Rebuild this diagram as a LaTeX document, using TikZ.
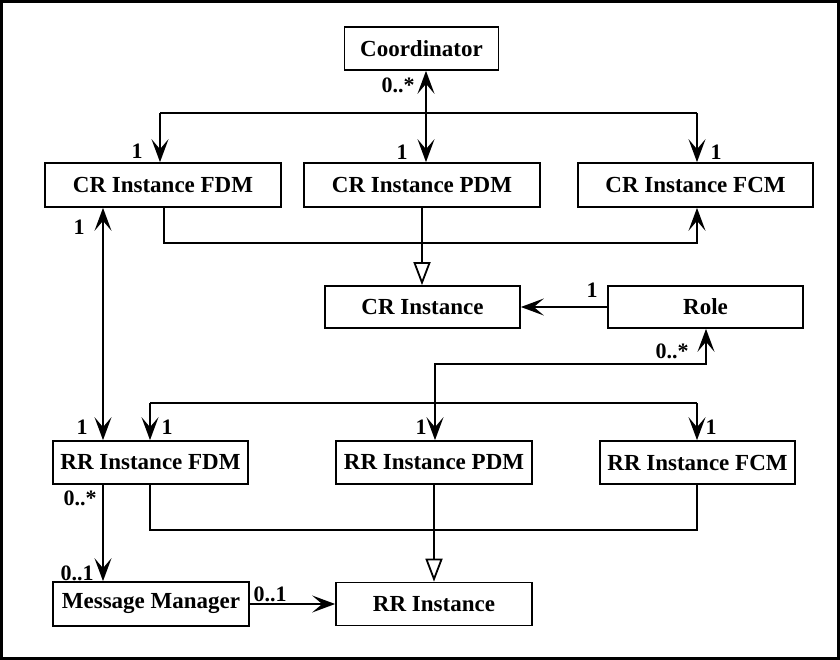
\documentclass[tikz,border=0pt]{standalone}
\usepackage{fontspec}
\setmainfont{Liberation Serif}
\usetikzlibrary{arrows.meta}
\tikzset{
  box/.style={draw, line width=1.7pt, inner sep=0pt, align=center,
    font=\bfseries\fontsize{23}{23}\selectfont},
  lbl/.style={inner sep=0pt, font=\bfseries\fontsize{22}{22}\selectfont},
  conn/.style={line width=1.8pt},
  arr/.style={conn, -{Stealth[length=23pt,width=17pt,inset=10pt]}},
  dbl/.style={conn, {Stealth[length=23pt,width=17pt,inset=10pt]}-{Stealth[length=23pt,width=17pt,inset=10pt]}},
  gen/.style={conn, -{Triangle[open,length=23pt,width=17pt,fill=white]}},
}
\begin{document}
\begin{tikzpicture}[x=1pt,y=-1pt]
\useasboundingbox (0,0) rectangle (840,660);
\draw[line width=3pt] (1.5,1.5) rectangle (838.5,658.5);
% boxes
\node[box, minimum width=154pt, minimum height=43pt] (coord) at (421.5,48.5) {Coordinator};
\node[box, minimum width=236pt, minimum height=44pt] (crfdm) at (163,185) {CR Instance FDM};
\node[box, minimum width=236pt, minimum height=44pt] (crpdm) at (422,185) {CR Instance PDM};
\node[box, minimum width=235pt, minimum height=44pt] (crfcm) at (695.5,185) {CR Instance FCM};
\node[box, minimum width=195pt, minimum height=42pt] (cri) at (422.5,307) {CR Instance};
\node[box, minimum width=195pt, minimum height=42pt] (role) at (705.5,307) {Role};
\node[box, minimum width=195pt, minimum height=43pt] (rrfdm) at (150.5,462.5) {RR Instance FDM};
\node[box, minimum width=196pt, minimum height=43pt] (rrpdm) at (434,462.5) {RR Instance PDM};
\node[box, minimum width=195pt, minimum height=43pt] (rrfcm) at (697.5,462.5) {RR Instance FCM};
\node[box, minimum width=196pt, minimum height=44pt] (mm) at (151,604) {Message Manager};
\node[box, minimum width=196pt, minimum height=43pt] (rri) at (434,604) {RR Instance};
% coordinates
\coordinate (xa) at (426,0);
\coordinate (t1) at (160,113);
\coordinate (t2) at (697,113);
\coordinate (b1) at (164,243);
\coordinate (b2) at (697,243);
\coordinate (v) at (103,0);
\coordinate (r1) at (435,364);
\coordinate (r2) at (706,364);
\coordinate (s1) at (150,403);
\coordinate (s2) at (697,403);
\coordinate (u1) at (150,530);
\coordinate (u2) at (697,530);
% connectors
\draw[dbl] (coord.south -| xa) -- (crpdm.north -| xa);
\draw[conn] (t1) -- (t2);
\draw[arr] (t1) -- (t1 |- crfdm.north);
\draw[arr] (t2) -- (t2 |- crfcm.north);
\draw[arr] (crfdm.south -| b1) -- (b1) -- (b2) -- (b2 |- crfcm.south);
\draw[gen] (crpdm.south) -- (crpdm.south |- cri.north);
\draw[arr] (role.west) -- (role.west -| cri.east);
\draw[dbl] (r2 |- role.south) -- (r2) -- (r1) -- (r1 |- rrpdm.north);
\draw[dbl] (v |- crfdm.south) -- (v |- rrfdm.north);
\draw[conn] (s1) -- (s2);
\draw[arr] (s1) -- (s1 |- rrfdm.north);
\draw[arr] (s2) -- (s2 |- rrfcm.north);
\draw[conn] (u1 |- rrfdm.south) -- (u1) -- (u2) -- (u2 |- rrfcm.south);
\draw[gen] (rrpdm.south) -- (rrpdm.south |- rri.north);
\draw[arr] (v |- rrfdm.south) -- (v |- mm.north);
\draw[arr] (mm.east) -- (mm.east -| rri.west);
% labels
\node[lbl] (l1) at (398,85) {0..*};
\node[lbl] (l2) at (402,152) {1};
\node[lbl] (l3) at (137,151) {1};
\node[lbl] (l4) at (716,152) {1};
\node[lbl] (l5) at (79,227) {1};
\node[lbl] (l6) at (592,290) {1};
\node[lbl] (l7) at (672,351) {0..*};
\node[lbl] (l8) at (82,427) {1};
\node[lbl] (l9) at (167,427) {1};
\node[lbl] (l10) at (421,427) {1};
\node[lbl] (l11) at (711,427) {1};
\node[lbl] (l12) at (80,498) {0..*};
\node[lbl] (l13) at (77,573) {0..1};
\node[lbl] (l14) at (270,594) {0..1};
\end{tikzpicture}
\end{document}
